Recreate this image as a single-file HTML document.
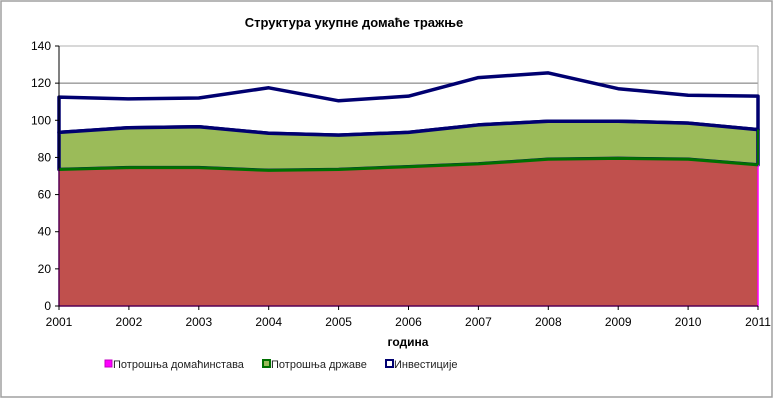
<!DOCTYPE html>
<html><head><meta charset="utf-8"><style>
body{margin:0;background:#fff;}
svg text{font-family:"Liberation Sans",sans-serif;}
</style></head><body>
<svg width="779" height="400" viewBox="0 0 779 400">
<rect x="0" y="0" width="779" height="400" fill="#fff"/>
<rect x="1" y="1" width="771" height="396" fill="none" stroke="#a0a0a0" stroke-width="1.5"/>
<text x="354" y="27" text-anchor="middle" font-size="13" font-weight="bold">Структура укупне домаће тражње</text>
<g id="grid"></g>
<g id="areas"></g>
<g id="axes"></g>
<text x="408" y="346" text-anchor="middle" font-size="12" font-weight="bold">година</text>
<g>
<g><rect x="105" y="360" width="7" height="7" fill="#ff00ff" stroke="#c000c0"/><text x="113" y="368" font-size="11" fill="#222">Потрошња домаћинстава</text></g>
<g><rect x="263" y="360" width="7" height="7" fill="#9bbb59" stroke="#007000" stroke-width="2"/><text x="271" y="368" font-size="11" fill="#222">Потрошња државе</text></g>
<g><rect x="386" y="360" width="7" height="7" fill="#fff" stroke="#000070" stroke-width="2"/><text x="394" y="368" font-size="11" fill="#222">Инвестиције</text></g>
</g>
</svg>
<script>
const years=['2001','2002','2003','2004','2005','2006','2007','2008','2009','2010','2011'];
const households=[73.5,74.5,74.5,73,73.5,75,76.5,79,79.5,79,76];
const government=[20,21.5,22,20,18.5,18.5,21,20.5,20,19.5,19];
const investment=[19,15.5,15.5,24.5,18.5,19.5,25.5,26,17.5,15,18];
const yTicks=[0,20,40,60,80,100,120,140];
const NS='http://www.w3.org/2000/svg';
const X0=59,X1=758,Y0=306,Y1=46,YMAX=140;
const xs=i=>X0+(X1-X0)*i/(years.length-1);
const ys=v=>Y0-(Y0-Y1)*v/YMAX;
function mk(tag,attrs,parent){const e=document.createElementNS(NS,tag);for(const k in attrs)e.setAttribute(k,attrs[k]);parent.appendChild(e);return e;}
const grid=document.getElementById('grid'),areas=document.getElementById('areas'),axes=document.getElementById('axes');
yTicks.forEach(t=>{
  if(t>0){const l=mk('line',{x1:X0,x2:X1,y1:ys(t),y2:ys(t),stroke:t===YMAX?'#b0b0b0':'#707070','stroke-width':1},grid);
  
  }
  const tx=mk('text',{x:X0-8,y:ys(t)+4,'text-anchor':'end','font-size':12},axes);tx.textContent=t;
  
  
  mk('line',{x1:X0-4,x2:X0,y1:ys(t),y2:ys(t),stroke:'#000'},axes);
});
mk('line',{x1:X1,x2:X1,y1:Y1,y2:Y0,stroke:'#b0b0b0'},grid);
const c1=households.slice(),c2=households.map((v,i)=>v+government[i]),c3=c2.map((v,i)=>v+investment[i]);
function areaPath(top,bot){let d='';top.forEach((v,i)=>{d+=(i?'L':'M')+xs(i)+','+ys(v);});for(let i=bot.length-1;i>=0;i--)d+='L'+xs(i)+','+ys(bot[i]);return d+'Z';}
const zero=years.map(()=>0);
const a3=mk('path',{d:areaPath(c3,c2),fill:'#fff',stroke:'#000070','stroke-width':3.5,'stroke-linejoin':'round'},areas);


const a2=mk('path',{d:areaPath(c2,c1),fill:'#9bbb59',stroke:'#000070','stroke-width':3.5,'stroke-linejoin':'round'},areas);


const a1=mk('path',{d:areaPath(c1,zero),fill:'#c0504d',stroke:'#ff00ff','stroke-width':1.5},areas);


let d='';c1.forEach((v,i)=>{d+=(i?'L':'M')+xs(i)+','+ys(v);});
mk('path',{d:d,fill:'none',stroke:'#007000','stroke-width':3},areas);
mk('line',{x1:X1,x2:X1,y1:ys(c2[c2.length-1]),y2:ys(c1[c1.length-1]),stroke:'#007000','stroke-width':2},areas);
mk('line',{x1:X0,x2:X0,y1:Y1,y2:Y0,stroke:'#000'},axes);
mk('line',{x1:X0,x2:X1,y1:Y0,y2:Y0,stroke:'#000'},axes);
years.forEach((y,i)=>{
  mk('line',{x1:xs(i),x2:xs(i),y1:Y0,y2:Y0+4,stroke:'#000'},axes);
  const tx=mk('text',{x:xs(i),y:Y0+20,'text-anchor':'middle','font-size':12},axes);tx.textContent=y;
  
  
});
</script>
</body></html>
